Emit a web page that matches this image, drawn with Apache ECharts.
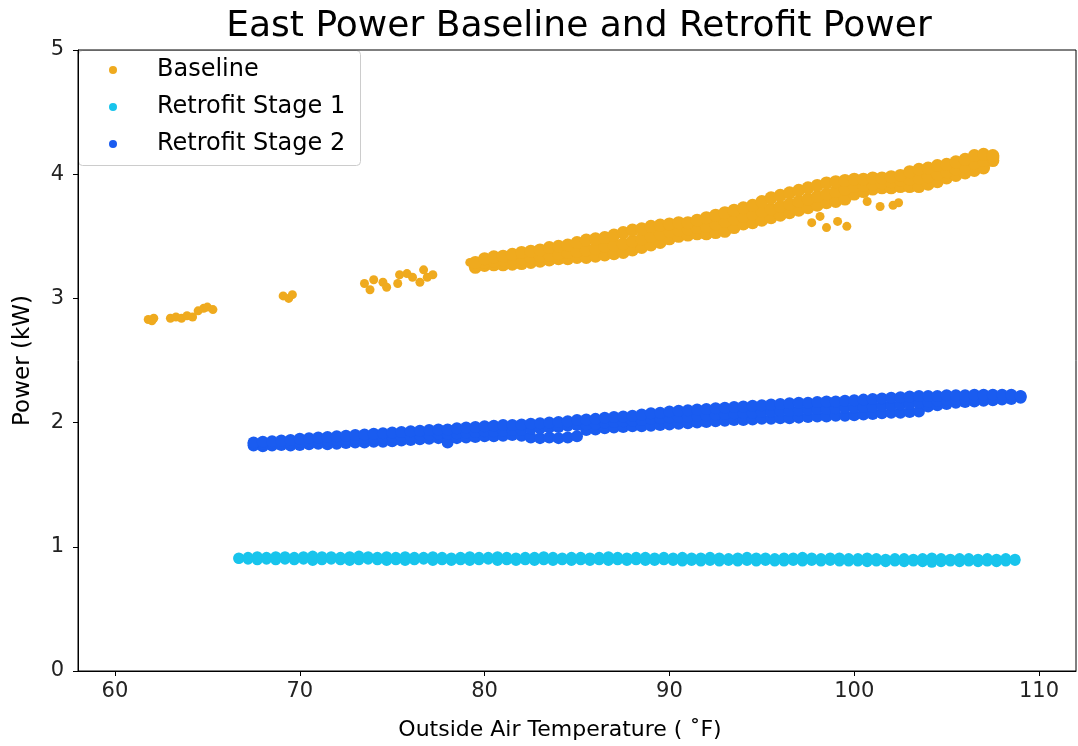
<!DOCTYPE html>
<html>
<head>
<meta charset="utf-8">
<title>East Power Baseline and Retrofit Power</title>
<script src="https://cdn.jsdelivr.net/npm/echarts@6/dist/echarts.min.js"></script>
<style>
  html, body { margin: 0; padding: 0; background: #fff; }
  #chart { width: 1078px; height: 746px; }
</style>
</head>
<body>
<div id="chart"></div>
<script>
// values (temperature in F, power in kW)
const xTicks = [60, 70, 80, 90, 100, 110];

// Baseline: scattered clusters below 79 F and a few stray points under the band
const baselineClusters = [
  [61.8, 2.83], [62.0, 2.82], [62.1, 2.84],
  [63.0, 2.84], [63.3, 2.85], [63.6, 2.84], [63.9, 2.86], [64.2, 2.85],
  [64.5, 2.90], [64.8, 2.92], [65.0, 2.93], [65.3, 2.91],
  [69.1, 3.02], [69.4, 3.00], [69.6, 3.03],
  [73.5, 3.12], [73.8, 3.07], [74.0, 3.15], [74.5, 3.13], [74.7, 3.09],
  [75.3, 3.12], [75.4, 3.19], [75.8, 3.20], [76.1, 3.17], [76.5, 3.13],
  [76.7, 3.23], [76.9, 3.17], [77.2, 3.19], [79.2, 3.29],
  [97.7, 3.61], [98.15, 3.66], [98.5, 3.57], [99.1, 3.62], [99.6, 3.58],
  [100.7, 3.78], [101.4, 3.74], [102.1, 3.75], [102.4, 3.77]
];
// Baseline: main band (lower edge, middle, upper edge)
const baselineTemp = [79.5, 80, 80.5, 81, 81.5, 82, 82.5, 83, 83.5, 84, 84.5, 85, 85.5, 86, 86.5, 87, 87.5, 88, 88.5, 89,
  89.5, 90, 90.5, 91, 91.5, 92, 92.5, 93, 93.5, 94, 94.5, 95, 95.5, 96, 96.5, 97, 97.5, 98, 98.5, 99,
  99.5, 100, 100.5, 101, 101.5, 102, 102.5, 103, 103.5, 104, 104.5, 105, 105.5, 106, 106.5, 107, 107.5];
const baselineLow = [3.25, 3.265, 3.27, 3.27, 3.275, 3.28, 3.29, 3.30, 3.31, 3.32, 3.32, 3.33, 3.33, 3.34, 3.35, 3.36, 3.37, 3.39, 3.41, 3.43,
  3.45, 3.48, 3.50, 3.51, 3.52, 3.52, 3.53, 3.54, 3.57, 3.60, 3.61, 3.63, 3.65, 3.67, 3.69, 3.71, 3.73, 3.75, 3.77, 3.78,
  3.80, 3.84, 3.86, 3.88, 3.89, 3.89, 3.90, 3.90, 3.90, 3.92, 3.94, 3.97, 3.99, 4.01, 4.03, 4.05, 4.11];
const baselineMid = [3.27, 3.29, 3.30, 3.31, 3.32, 3.32, 3.33, 3.34, 3.35, 3.36, 3.37, 3.38, 3.39, 3.40, 3.42, 3.43, 3.44, 3.46, 3.48, 3.50,
  3.52, 3.54, 3.55, 3.56, 3.57, 3.58, 3.60, 3.62, 3.64, 3.66, 3.68, 3.70, 3.72, 3.74, 3.76, 3.78, 3.80, 3.82, 3.84, 3.86,
  3.88, 3.90, 3.91, 3.92, 3.93, 3.94, 3.95, 3.96, 3.97, 3.98, 4.00, 4.02, 4.04, 4.06, 4.09, 4.11, 4.13];
const baselineHigh = [3.29, 3.32, 3.335, 3.34, 3.355, 3.37, 3.38, 3.39, 3.41, 3.42, 3.43, 3.45, 3.47, 3.48, 3.49, 3.51, 3.53, 3.55, 3.56, 3.58,
  3.59, 3.60, 3.61, 3.61, 3.63, 3.65, 3.67, 3.69, 3.71, 3.73, 3.75, 3.78, 3.81, 3.83, 3.85, 3.87, 3.89, 3.91, 3.93, 3.94,
  3.95, 3.96, 3.96, 3.97, 3.97, 3.98, 3.99, 4.02, 4.04, 4.05, 4.07, 4.08, 4.10, 4.12, 4.15, 4.16, 4.15];

// Retrofit Stage 1 (thin band near 0.9 kW)
const stage1Temp = [66.7, 67.2, 67.7, 68.2, 68.7, 69.2, 69.7, 70.2, 70.7, 71.2, 71.7, 72.2, 72.7, 73.2, 73.7, 74.2, 74.7,
  75.2, 75.7, 76.2, 76.7, 77.2, 77.7, 78.2, 78.7, 79.2, 79.7, 80.2, 80.7, 81.2, 81.7, 82.2, 82.7, 83.2, 83.7, 84.2, 84.7,
  85.2, 85.7, 86.2, 86.7, 87.2, 87.7, 88.2, 88.7, 89.2, 89.7,
  90.2, 90.7, 91.2, 91.7, 92.2, 92.7, 93.2, 93.7, 94.2, 94.7, 95.2, 95.7, 96.2, 96.7, 97.2, 97.7, 98.2, 98.7, 99.2, 99.7,
  100.2, 100.7, 101.2, 101.7, 102.2, 102.7, 103.2, 103.7, 104.2, 104.7, 105.2, 105.7, 106.2, 106.7, 107.2, 107.7, 108.2, 108.7];
const stage1High = [0.91, 0.915, 0.92, 0.915, 0.92, 0.92, 0.915, 0.92, 0.925, 0.92, 0.92, 0.915, 0.92, 0.925, 0.92, 0.915, 0.92,
  0.915, 0.92, 0.915, 0.915, 0.92, 0.915, 0.91, 0.915, 0.92, 0.915, 0.915, 0.92, 0.915, 0.91, 0.915, 0.915, 0.92, 0.915, 0.91, 0.915,
  0.915, 0.91, 0.915, 0.92, 0.915, 0.91, 0.915, 0.915, 0.91, 0.915,
  0.91, 0.915, 0.91, 0.91, 0.915, 0.91, 0.905, 0.91, 0.915, 0.91, 0.91, 0.905, 0.91, 0.91, 0.915, 0.91, 0.905, 0.91, 0.91, 0.905,
  0.905, 0.91, 0.905, 0.90, 0.905, 0.905, 0.90, 0.905, 0.91, 0.905, 0.90, 0.905, 0.905, 0.90, 0.905, 0.90, 0.905, 0.90];
const stage1Low = [0.905, 0.90, 0.895, 0.90, 0.895, 0.90, 0.895, 0.90, 0.89, 0.895, 0.90, 0.895, 0.89, 0.895, 0.90, 0.895, 0.89,
  0.895, 0.89, 0.895, 0.90, 0.89, 0.895, 0.89, 0.895, 0.89, 0.895, 0.90, 0.89, 0.895, 0.89, 0.895, 0.89, 0.895, 0.89, 0.895, 0.89,
  0.895, 0.89, 0.895, 0.89, 0.895, 0.89, 0.895, 0.89, 0.89, 0.895,
  0.89, 0.885, 0.89, 0.885, 0.89, 0.885, 0.89, 0.885, 0.89, 0.885, 0.89, 0.885, 0.885, 0.89, 0.885, 0.89, 0.885, 0.89, 0.885, 0.885,
  0.885, 0.88, 0.885, 0.88, 0.885, 0.88, 0.885, 0.88, 0.875, 0.88, 0.885, 0.88, 0.885, 0.88, 0.885, 0.88, 0.885, 0.89];

// Retrofit Stage 2 (band rising from 1.8 to 2.2 kW)
const stage2Temp = [67.5, 68, 68.5, 69, 69.5, 70, 70.5, 71, 71.5, 72, 72.5, 73, 73.5, 74, 74.5, 75, 75.5, 76, 76.5, 77,
  77.5, 78, 78.5, 79, 79.5, 80, 80.5, 81, 81.5, 82, 82.5, 83, 83.5, 84, 84.5, 85, 85.5, 86, 86.5, 87,
  87.5, 88, 88.5, 89, 89.5, 90, 90.5, 91, 91.5, 92, 92.5, 93, 93.5, 94, 94.5, 95, 95.5, 96, 96.5, 97,
  97.5, 98, 98.5, 99, 99.5, 100, 100.5, 101, 101.5, 102, 102.5, 103, 103.5, 104, 104.5, 105, 105.5, 106, 106.5, 107,
  107.5, 108, 108.5, 109];
const stage2Low = [1.815, 1.81, 1.815, 1.82, 1.815, 1.82, 1.825, 1.83, 1.825, 1.83, 1.835, 1.84, 1.84, 1.845, 1.845, 1.85, 1.855, 1.86, 1.865, 1.87,
  1.875, 1.84, 1.875, 1.88, 1.885, 1.89, 1.89, 1.895, 1.90, 1.895, 1.88, 1.875, 1.88, 1.875, 1.88, 1.89, 1.94, 1.945, 1.955, 1.96,
  1.965, 1.97, 1.97, 1.975, 1.98, 1.985, 1.99, 1.995, 2.0, 2.005, 2.01, 2.015, 2.02, 2.02, 2.025, 2.03, 2.03, 2.035, 2.035, 2.04,
  2.045, 2.05, 2.05, 2.055, 2.055, 2.06, 2.065, 2.07, 2.075, 2.08, 2.08, 2.085, 2.09, 2.13, 2.14, 2.15, 2.16, 2.165, 2.17, 2.175,
  2.18, 2.185, 2.19, 2.20];
const stage2Mid = [1.83, 1.83, 1.835, 1.84, 1.84, 1.845, 1.85, 1.855, 1.855, 1.86, 1.865, 1.87, 1.875, 1.875, 1.88, 1.885, 1.89, 1.895, 1.90, 1.905,
  1.91, 1.91, 1.915, 1.92, 1.925, 1.93, 1.93, 1.935, 1.94, 1.94, 1.95, 1.955, 1.96, 1.965, 1.975, 1.98, 1.985, 1.99, 2.0, 2.005,
  2.01, 2.015, 2.02, 2.03, 2.035, 2.04, 2.045, 2.05, 2.055, 2.06, 2.065, 2.07, 2.075, 2.08, 2.08, 2.085, 2.09, 2.095, 2.095, 2.10,
  2.105, 2.11, 2.11, 2.115, 2.12, 2.12, 2.125, 2.13, 2.135, 2.14, 2.145, 2.15, 2.16, 2.17, 2.175, 2.185, 2.19, 2.19, 2.195, 2.20,
  2.20, 2.205, 2.205, 2.21];
const stage2High = [1.84, 1.845, 1.85, 1.855, 1.86, 1.87, 1.875, 1.88, 1.885, 1.89, 1.895, 1.90, 1.905, 1.91, 1.915, 1.92, 1.925, 1.93, 1.935, 1.94,
  1.945, 1.945, 1.955, 1.96, 1.965, 1.97, 1.975, 1.98, 1.98, 1.985, 1.99, 1.995, 2.0, 2.005, 2.01, 2.02, 2.025, 2.03, 2.04, 2.045,
  2.05, 2.055, 2.065, 2.075, 2.08, 2.09, 2.095, 2.10, 2.105, 2.11, 2.115, 2.12, 2.125, 2.13, 2.135, 2.14, 2.145, 2.15, 2.155, 2.16,
  2.16, 2.165, 2.17, 2.17, 2.175, 2.18, 2.185, 2.19, 2.195, 2.20, 2.205, 2.21, 2.215, 2.215, 2.215, 2.22, 2.22, 2.22, 2.225, 2.225,
  2.225, 2.225, 2.225, 2.215];

const colors = {
  baseline: '#efaa1e',
  stage1: '#18c4ec',
  stage2: '#1a5cf0'
};

// turn a temperature list and one or more power rows into [x, y] pairs
function bandPoints(temps, rows) {
  const pts = [];
  rows.forEach(function (row) {
    temps.forEach(function (t, i) { pts.push([t, row[i]]); });
  });
  return pts;
}

// lone points keep the small marker size of the original plot
const clusterItems = baselineClusters.map(function (p) {
  return { value: p, symbolSize: 9 };
});

const baselineData = clusterItems.concat(bandPoints(baselineTemp, [baselineLow, baselineMid, baselineHigh]));
const stage1Data = bandPoints(stage1Temp, [stage1Low, stage1High]);
const stage2Data = bandPoints(stage2Temp, [stage2Low, stage2Mid, stage2High]);

const font = 'DejaVu Sans';
const chart = echarts.init(document.getElementById('chart'), null, { renderer: 'canvas' });

const option = {
  backgroundColor: '#fff',
  animation: false,
  textStyle: { fontFamily: font },
  title: {
    text: 'East Power Baseline and Retrofit Power',
    left: 574,
    textAlign: 'center',
    top: 4,
    textStyle: { fontFamily: font, fontSize: 36, fontWeight: 'normal', color: '#000' }
  },
  legend: {
    orient: 'vertical',
    left: 109,
    top: 57,
    padding: 0,
    icon: 'circle',
    itemWidth: 78,
    itemHeight: 8,
    itemGap: 11,
    textStyle: { fontFamily: font, fontSize: 24, color: '#000', lineHeight: 26 },
    data: ['Baseline', 'Retrofit Stage 1', 'Retrofit Stage 2']
  },
  graphic: [{
    type: 'rect',
    left: 78,
    top: 50,
    shape: { width: 282, height: 115, r: 4 },
    style: { fill: 'rgba(255,255,255,0.8)', stroke: '#cccccc', lineWidth: 1 },
    z: -1
  }],
  grid: {
    left: 78,
    right: 2,
    top: 50,
    bottom: 75,
    show: true,
    borderColor: '#000',
    borderWidth: 1
  },
  xAxis: {
    type: 'value',
    min: 58,
    max: 112,
    name: 'Outside Air Temperature ( \u02daF)',
    nameLocation: 'middle',
    nameGap: 48,
    nameTextStyle: { fontFamily: font, fontSize: 22, color: '#000', padding: [0, 34, 0, 0] },
    axisLine: { show: true, onZero: false, lineStyle: { color: '#000', width: 1 } },
    axisTick: { show: true, length: 5, lineStyle: { color: '#000' }, customValues: xTicks },
    axisLabel: { fontFamily: font, fontSize: 21, color: '#222', margin: 10, customValues: xTicks },
    splitLine: { show: false }
  },
  yAxis: {
    type: 'value',
    min: 0,
    max: 5,
    interval: 1,
    name: 'Power (kW)',
    nameLocation: 'middle',
    nameGap: 43,
    nameTextStyle: { fontFamily: font, fontSize: 23, color: '#000' },
    axisLine: { show: true, lineStyle: { color: '#000', width: 1 } },
    axisTick: { show: true, length: 5, lineStyle: { color: '#000' } },
    axisLabel: { fontFamily: font, fontSize: 21, color: '#222', margin: 14 },
    splitLine: { show: false }
  },
  series: [
    {
      name: 'Baseline',
      type: 'scatter',
      symbolSize: 13,
      itemStyle: { color: colors.baseline, opacity: 1 },
      data: baselineData
    },
    {
      name: 'Retrofit Stage 1',
      type: 'scatter',
      symbolSize: 11,
      itemStyle: { color: colors.stage1, opacity: 1 },
      data: stage1Data
    },
    {
      name: 'Retrofit Stage 2',
      type: 'scatter',
      symbolSize: 12,
      itemStyle: { color: colors.stage2, opacity: 1 },
      data: stage2Data
    }
  ]
};

chart.setOption(option);
</script>
</body>
</html>
